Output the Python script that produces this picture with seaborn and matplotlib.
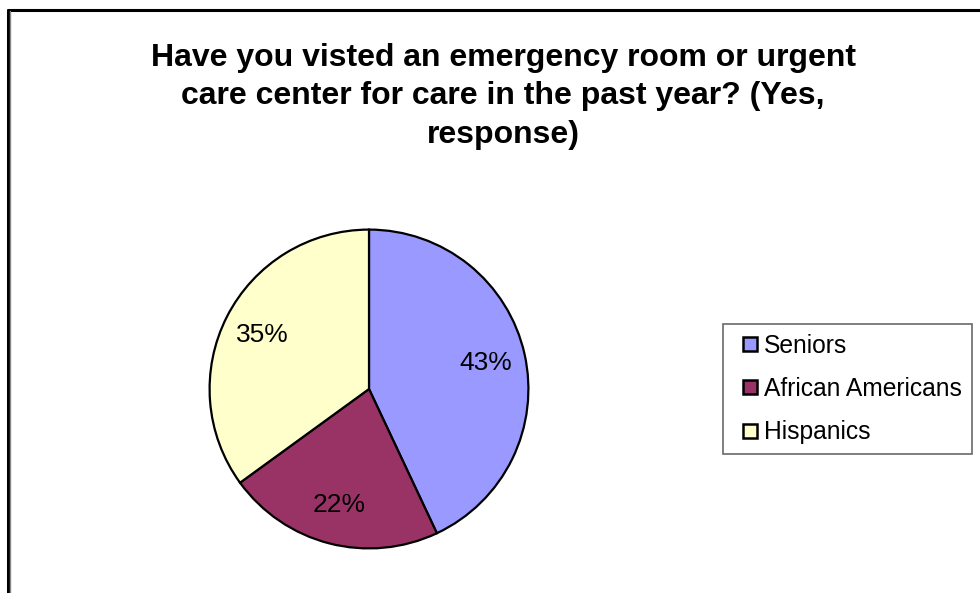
import matplotlib
matplotlib.use("Agg")
import matplotlib.pyplot as plt
from matplotlib.lines import Line2D
import seaborn as sns

# Survey answers ("Yes" responses) by group
groups = ["Seniors", "African Americans", "Hispanics"]
shares = [43, 22, 35]
colors = ["#9999FF", "#993366", "#FFFFCC"]
title = "Have you visted an emergency room or urgent\ncare center for care in the past year? (Yes,\nresponse)"

sns.set_theme(style="white")
plt.rcParams["font.family"] = ["Liberation Sans", "DejaVu Sans"]
plt.rcParams["text.color"] = "black"

W, H = 980, 593
fig = plt.figure(figsize=(W / 100, H / 100), dpi=100)
fig.patch.set_facecolor("white")

# square axes holding the pie (pixel box 208..530 x 228..550)
ax = fig.add_axes([208 / W, (H - 550) / H, 322 / W, 322 / H])
wedges, texts, autotexts = ax.pie(
    shares,
    colors=colors,
    startangle=90,
    counterclock=False,
    radius=1.0,
    autopct="%.0f%%",
    pctdistance=0.75,
    wedgeprops=dict(edgecolor="black", linewidth=1.6),
    textprops=dict(fontsize=19, color="black"),
)
ax.set_xlim(-1.01, 1.01)
ax.set_ylim(-1.01, 1.01)
ax.set_axis_off()

# chart title
fig.text(503 / W, 1 - 43 / H, title, ha="center", va="top", color="black",
         fontsize=23, fontweight="bold", linespacing=1.36)

# legend with small square keys
handles = [Line2D([], [], linestyle="none", marker="s", markersize=9.6,
                  markerfacecolor=c, markeredgecolor="black", markeredgewidth=1.8)
           for c in colors]
leg = fig.legend(
    handles, groups,
    loc="center left",
    bbox_to_anchor=(723 / W, 1 - 389 / H),
    fontsize=17.7,
    frameon=True,
    fancybox=False,
    edgecolor="#444444",
    handlelength=1.4,
    handletextpad=-0.15,
    labelspacing=0.78,
    borderpad=0.41,
    borderaxespad=0,
)
leg.get_frame().set_linewidth(1.2)
for t in leg.get_texts():
    t.set_color("black")

# chart-area frame along the top and left edges
fig.add_artist(Line2D([8 / W, 1.0], [1 - 10 / H, 1 - 10 / H],
                      transform=fig.transFigure, color="black", linewidth=2.2))
fig.add_artist(Line2D([8 / W, 8 / W], [0, 1 - 10 / H],
                      transform=fig.transFigure, color="black", linewidth=2.2))
fig.add_artist(Line2D([10 / W, 10 / W], [0, 1 - 11 / H],
                      transform=fig.transFigure, color="#888888", linewidth=1.0))

fig.savefig("out.png", dpi=100, facecolor="white")
